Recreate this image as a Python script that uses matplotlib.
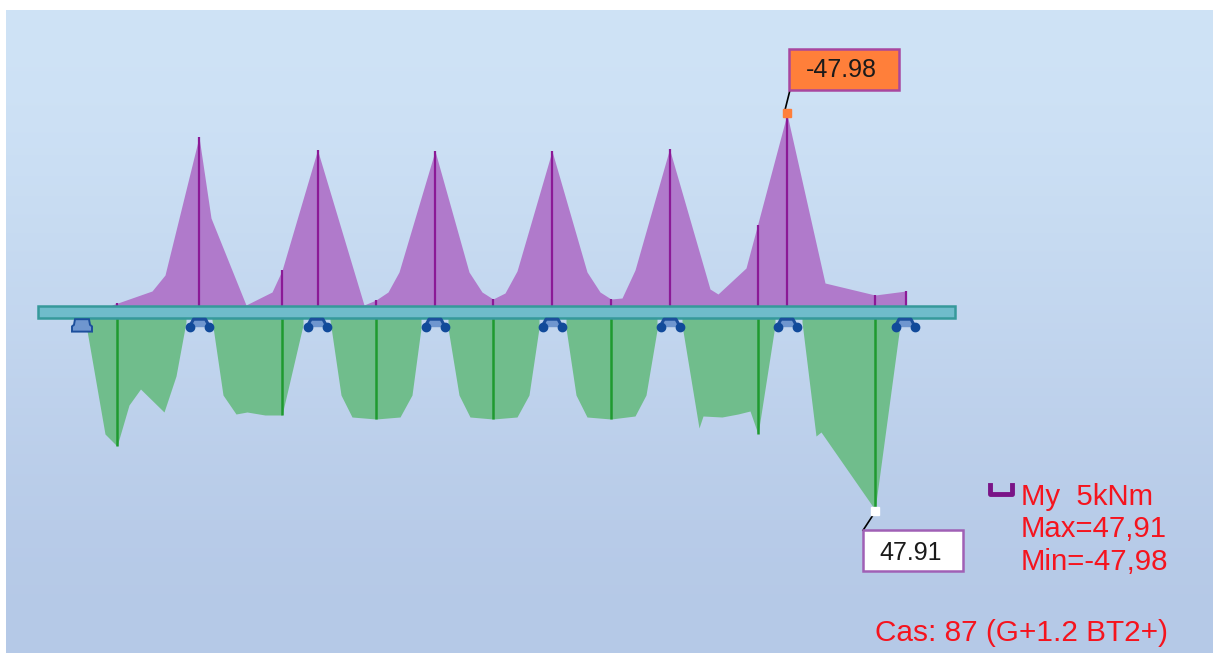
# beam moment diagram My, case 87
import numpy as np
import matplotlib
matplotlib.use("Agg")
import matplotlib.pyplot as plt
from matplotlib.patches import Polygon, Rectangle

plt.rcParams['font.family'] = ['Liberation Sans', 'DejaVu Sans']

# stations along the beam and moments in kNm
neg_x = [112, 152, 165, 199, 211, 246, 272, 282, 317.5, 364, 376, 388, 399, 435, 469, 482, 493,
         505, 517, 552, 587, 600, 611, 622, 635, 669.5, 710, 718, 746, 757.5, 787, 825, 875, 906]
neg_m = [0.25, 3.75, 7.75, 42.25, 22, 0.25, 3.5, 8.9, 39, 0.25, 1.5, 3.5, 8.5, 38.75, 8.5, 3.5, 1.75,
         3.25, 8.75, 38.75, 8.5, 3.5, 1.75, 2, 9, 39.25, 4.25, 3, 9.5, 20.25, 47.98, 5.75, 2.75, 3.75]

pos_x = [85, 105, 117, 129, 140.5, 164, 176, 186]
pos_m = [0.25, 29, 32, 21.75, 17.75, 23.5, 14.5, 1]
pos_x2 = [212, 223, 236, 247, 265, 282, 303]
pos_m2 = [0.5, 19.25, 24, 23.5, 24.25, 24.25, 1.75]
pos_x3 = [330, 341, 352, 376, 400, 412, 421]
pos_m3 = [0.5, 19.25, 24.75, 25.25, 24.75, 19.25, 2.5]
pos_x4 = [448, 459, 470, 493, 517, 529, 539]
pos_m4 = [2.5, 19.25, 24.75, 25.25, 24.75, 19.25, 2.5]
pos_x5 = [566, 576, 587, 611, 635, 646, 657]
pos_m5 = [2.5, 19.25, 24.75, 25.25, 24.5, 19.25, 3]
pos_x6 = [682, 699, 703, 722, 738, 750, 758, 775]
pos_m6 = [1.75, 27.5, 24.5, 24.75, 24, 23.25, 29, 1.75]
pos_x7 = [802, 816, 821, 875, 900]
pos_m7 = [1, 29.5, 28.5, 47.91, 1.75]

neg_lines = [117, 199, 282, 317.5, 376, 435, 493, 552, 611, 669.5, 757.5, 787, 875, 906]
pos_lines = [117, 282, 376, 493, 611, 758, 875]
supports = [199.5, 317, 435, 552, 670, 787, 905]
end_support = 82

max_label = "47.91"
min_label = "-47.98"
legend_lines = ["My  5kNm", "Max=47,91", "Min=-47,98"]
case_label = "Cas: 87 (G+1.2 BT2+)"

half_beam = 1.5

fig = plt.figure(figsize=(12.13, 6.53), dpi=100)
ax = fig.add_axes([0, 0, 1, 1])

# background gradient
grad = np.array([[0.812, 0.890, 0.965], [0.776, 0.855, 0.945], [0.745, 0.820, 0.925], [0.710, 0.788, 0.906]])
ax.imshow(grad[:, None, :], extent=[6, 1213, 85.25, -75.5], aspect='auto', interpolation='bicubic', zorder=0)

ax.set_xlim(0, 1213)
ax.set_ylim(85.25, -78)
ax.axis('off')

purple = '#b07acb'
green = '#70bd8c'
dark_purple = '#8b1a96'
dark_green = '#1f9a30'

neg_x = np.array(neg_x)
neg_m = np.array(neg_m)
ax.fill_between(neg_x, 0, -neg_m - half_beam, color=purple, lw=0, zorder=2)

spans = [(pos_x, pos_m), (pos_x2, pos_m2), (pos_x3, pos_m3), (pos_x4, pos_m4),
         (pos_x5, pos_m5), (pos_x6, pos_m6), (pos_x7, pos_m7)]
for xs, ms in spans:
    ax.fill_between(xs, 0, np.array(ms) + half_beam, color=green, lw=0, zorder=2)

# section lines
for x in neg_lines:
    ax.plot([x, x], [0, -np.interp(x, neg_x, neg_m) - half_beam], color=dark_purple, lw=1.6,
            solid_capstyle='butt', zorder=3)
for x in pos_lines:
    for xs, ms in spans:
        if xs[0] <= x <= xs[-1]:
            ax.plot([x, x], [0, np.interp(x, xs, ms) + half_beam], color=dark_green, lw=1.8,
                    solid_capstyle='butt', zorder=3)

# beam
ax.add_patch(Rectangle((38, -1.6), 917, 3.2, fc='#6fbccb', ec='#36999b', lw=1.8, zorder=4))

# supports
sup_dark = '#1c4f9c'
sup_light = '#6f96cf'
x = end_support
ax.add_patch(Polygon([(x - 7, 1.8), (x + 7, 1.8), (x + 8, 3.2), (x + 10, 3.6), (x + 10, 4.9), (x - 10, 4.9), (x - 10, 3.6), (x - 8, 3.2)],
                     fc=sup_light, ec=sup_dark, lw=1.4, zorder=5))
for x in supports:
    ax.add_patch(Polygon([(x - 6, 1.8), (x + 6, 1.8), (x + 8, 3.8), (x - 8, 3.8)], fc=sup_light, ec='none', zorder=5))
    ax.plot([x - 10, x - 6, x + 6, x + 10], [3.7, 1.8, 1.8, 3.7], color=sup_dark, lw=2.2, zorder=6)
    ax.plot([x - 9.5, x + 9.5], [3.7, 3.7], ls='none', marker='o', ms=6, color='#114a9a', zorder=6)

# extreme value tags
ax.plot([785, 790], [-50.5, -55.5], color='black', lw=1.2, zorder=6)
ax.plot([787], [-49.8], ls='none', marker='s', ms=6, color='#ff7f3a', zorder=7)
ax.add_patch(Rectangle((789, -65.75), 110, 10.25, fc='#ff7f3a', ec='#a8479f', lw=1.8, zorder=6))
ax.text(841, -60.6, min_label, fontsize=18, color='#1a1a1a', ha='center', va='center', zorder=7)

ax.plot([863, 875], [54.6, 50], color='black', lw=1.2, zorder=6)
ax.plot([875], [49.8], ls='none', marker='s', ms=6, color='white', zorder=7)
ax.add_patch(Rectangle((863, 54.6), 100, 10.25, fc='white', ec='#a060b5', lw=1.8, zorder=6))
ax.text(911, 60.2, max_label, fontsize=18, color='#1a1a1a', ha='center', va='center', zorder=7)

# legend
ax.plot([990, 990, 1012, 1012], [43.25, 45.5, 45.5, 43.25], color='#7a1487', lw=3.5, solid_joinstyle='round', zorder=6)
for i, line in enumerate(legend_lines):
    ax.text(1021, 46.25 + i * 8.1, line, fontsize=21.2, color='#f5141e', ha='left', va='center', zorder=7)
ax.text(1168, 80.25, case_label, fontsize=21.4, color='#f5141e', ha='right', va='center', zorder=7)

fig.savefig('out.png', dpi=100, facecolor='white')
